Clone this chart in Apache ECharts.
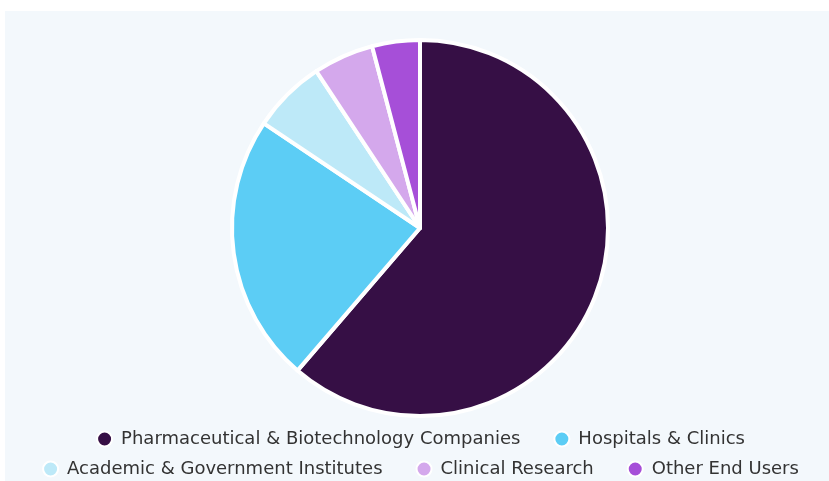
<!DOCTYPE html>
<html>
<head>
<meta charset="utf-8">
<script src="https://cdn.jsdelivr.net/npm/echarts@6/dist/echarts.min.js"></script>
<style>
  html, body { margin: 0; padding: 0; background: #ffffff; overflow: hidden; }
  #panel { position: absolute; left: 5px; top: 11px; width: 824px; height: 470px; background: #f3f8fc; }
  #chart { position: absolute; left: 12px; top: 0; width: 817px; height: 481px; }
</style>
</head>
<body>
<div id="panel"></div>
<div id="chart"></div>
<script>
// End-user share of the market (%)
const categories = [
  'Pharmaceutical & Biotechnology Companies',
  'Hospitals & Clinics',
  'Academic & Government Institutes',
  'Clinical Research',
  'Other End Users'
];
const shares = [61.3, 23.1, 6.3, 5.2, 4.1];
const colors = ['#360f45', '#5ccdf5', '#bde9f8', '#d4a8ec', '#a64fd8'];

const legendRow1 = categories.slice(0, 2);
const legendRow2 = categories.slice(2);

const chart = echarts.init(document.getElementById('chart'));

const legendBase = {
  left: 'center',
  orient: 'horizontal',
  icon: 'circle',
  itemWidth: 15,
  itemHeight: 15,
  itemGap: 33,
  textStyle: {
    color: '#333333',
    fontSize: 18,
    fontFamily: '"DejaVu Sans", sans-serif',
    padding: [0, 0, 0, 4]
  }
};

chart.setOption({
  backgroundColor: 'transparent',
  color: colors,
  legend: [
    Object.assign({}, legendBase, { top: 425, data: legendRow1 }),
    Object.assign({}, legendBase, { top: 455, data: legendRow2 })
  ],
  series: [{
    type: 'pie',
    center: [408, 228],
    radius: [0, 188],
    startAngle: 90,
    clockwise: true,
    label: { show: false },
    labelLine: { show: false },
    itemStyle: { borderColor: '#ffffff', borderWidth: 4 },
    emphasis: { disabled: true },
    data: categories.map((name, i) => ({ name, value: shares[i] }))
  }]
});
</script>
</body>
</html>
